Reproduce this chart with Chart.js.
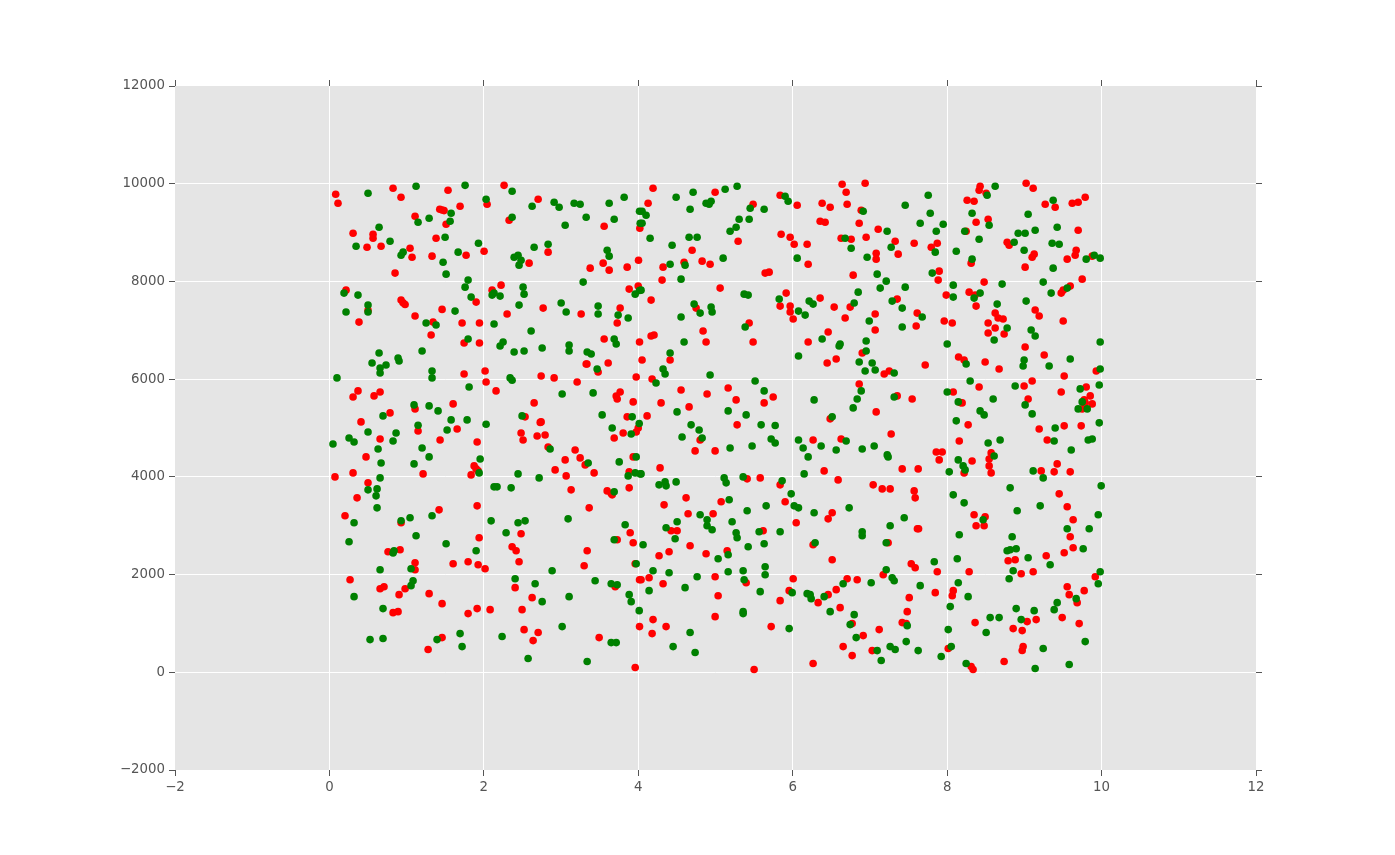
<!DOCTYPE html>
<html><head><meta charset="utf-8">
<style>html,body{margin:0;padding:0;background:#fff}#w{width:1395px;height:855px;position:relative}</style>
<script src="https://cdn.jsdelivr.net/npm/chart.js@4"></script>
</head><body><div id="w"><canvas id="c" width="1395" height="855"></canvas></div>
<script>
const redPoints=[
[.081,9784],[.111,9600],[.824,9906],[.927,9722],[1.536,9865],[1.429,9477],[1.459,9463],[1.485,9450],[1.692,9538],[1.109,9334],[1.511,9171],[.306,8987],[.565,8966],[.565,8885],[.487,8701],[.669,8721],[1.044,8680],[1.07,8496],[1.381,8885],[1.329,8517],[1.77,8537],[.85,8170],[.215,7822],[.928,7618],[.954,7563],[.98,7529],[.5,7407],[.383,7168],[1.109,7291],[1.459,7427],[1.9,7577],[1.342,7168],[1.317,6903],[1.718,7148],[1.943,7148],[1.744,6739],[1.943,6739],[1.744,6106],[.37,5759],[.306,5636],[.578,5657],[.656,5738],[1.109,5391],[1.602,5493],[.785,5309],[.409,5125],
[2.262,9967],[2.703,9681],[2.042,9579],[2.327,9252],[3.558,9130],[4.02,9089],[2.003,8619],[2.832,8599],[2.586,8374],[3.377,8272],[3.545,8374],[3.623,8231],[3.856,8292],[4.003,8435],[2.223,7924],[2.107,7822],[3.882,7843],[3.999,7904],[2.768,7454],[2.301,7332],[3.26,7332],[3.765,7454],[3.727,7148],[3.558,6821],[4.016,6760],[3.325,6310],[3.335,6310],[3.61,6331],[3.48,6147],[2.016,6167],[2.029,5943],[2.742,6065],[2.91,6025],[3.208,5943],[3.973,6045],[2.158,5759],[2.651,5514],[3.765,5738],[3.714,5656],[3.727,5595],[3.934,5534],[2.534,5228],[3.856,5228],[2.742,5125],[2.73,5115],
[4.191,9906],[4.995,9824],[4.127,9600],[5.487,9579],[5.837,9763],[6.058,9559],[5.85,8966],[5.967,8905],[6.019,8762],[5.293,8823],[4.697,8639],[4.593,8394],[4.827,8415],[4.93,8353],[4.321,8292],[4.308,8027],[5.643,8170],[5.695,8190],[5.06,7863],[5.915,7761],[4.166,7618],[5.837,7495],[5.967,7495],[4.749,7454],[5.967,7373],[6.006,7230],[5.436,7148],[4.839,6985],[4.204,6903],[4.166,6882],[4.878,6760],[5.487,6760],[4.049,6392],[4.412,6392],[4.179,6004],[4.554,5779],[5.164,5820],[4.891,5697],[5.747,5636],[5.267,5575],[5.63,5514],[4.295,5514],[4.658,5432],[4.114,5248],[5.28,5064],
[6.64,9988],[6.938,10008],[6.692,9824],[6.381,9600],[6.485,9518],[6.705,9579],[6.887,9457],[6.355,9232],[6.42,9211],[6.861,9191],[7.107,9068],[6.951,8905],[6.627,8885],[6.757,8864],[7.327,8823],[7.573,8782],[7.872,8782],[7.794,8701],[6.187,8762],[7.081,8578],[7.366,8558],[7.081,8456],[6.2,8353],[7.897,8210],[6.783,8129],[7.884,8027],[7.988,7720],[7.353,7638],[6.355,7659],[6.537,7475],[6.744,7475],[6.679,7250],[7.068,7332],[7.612,7352],[7.962,7189],[8.066,7148],[7.599,7087],[7.068,7005],[6.459,6964],[6.2,6760],[6.9,6535],[6.563,6413],[6.446,6331],[8.148,6453],[7.716,6290],[7.25,6167],[7.185,6106],[6.861,5902],[8.079,5738],[7.353,5657],[7.547,5595],[8.17,5520],[7.081,5330],[6.485,5187],
[8.427,9947],[8.414,9865],[8.505,9804],[9.023,10008],[9.114,9906],[8.259,9661],[8.349,9640],[9.27,9579],[9.399,9518],[9.62,9600],[9.697,9620],[9.788,9722],[8.531,9273],[8.375,9211],[8.246,9027],[9.697,9048],[8.777,8803],[8.803,8742],[9.127,8558],[9.101,8496],[9.671,8639],[9.658,8537],[9.555,8456],[9.879,8517],[8.311,8374],[9.01,8292],[8.479,7986],[9.749,8047],[9.594,7904],[9.503,7822],[9.477,7761],[8.285,7781],[8.362,7720],[8.375,7495],[9.14,7414],[9.192,7291],[8.622,7352],[8.66,7250],[8.725,7230],[8.531,7148],[8.622,7046],[8.531,6944],[8.738,6923],[9.503,7189],[9.01,6658],[9.257,6494],[8.22,6392],[8.492,6351],[8.673,6208],[9.931,6167],[9.516,6065],[9.101,5963],[8.997,5861],[8.414,5840],[9.477,5738],[9.801,5840],[9.853,5657],[9.775,5575],[9.788,5514],[9.879,5493],[9.749,5391],[9.049,5595],[8.194,5514],[8.272,5064],[9.516,5044],[9.736,5044],
[1.148,4939],[1.654,4980],[.656,4776],[1.433,4755],[1.913,4714],[.474,4408],[1.874,4224],[1.9,4163],[1.926,4122],[1.835,4040],[.306,4081],[.072,3999],[1.213,4061],[.5,3877],[.358,3570],[1.913,3407],[1.42,3325],[.202,3203],[.928,3060],[1.939,2753],[.759,2467],[.915,2508],[1.109,2242],[1.109,2099],[1.602,2222],[1.796,2263],[1.926,2202],[.267,1895],[.707,1752],[.656,1711],[.98,1711],[.902,1589],[1.291,1609],[1.459,1405],[1.913,1303],[1.796,1201],[.824,1221],[.889,1241],[1.459,710],[1.278,465],
[2.482,4898],[2.508,4755],[2.69,4837],[2.793,4857],[3.688,4796],[3.804,4898],[3.973,4919],[3.999,5000],[2.832,4612],[3.182,4551],[3.247,4388],[3.053,4347],[3.312,4245],[3.934,4408],[2.923,4142],[3.428,4081],[3.066,4020],[3.882,4102],[3.13,3734],[3.882,3775],[3.597,3713],[3.662,3632],[3.65,3660],[3.364,3366],[3.895,2855],[2.482,2835],[3.727,2712],[3.934,2651],[2.366,2569],[2.418,2488],[3.338,2488],[2.456,2263],[3.299,2181],[3.96,2222],[2.016,2120],[2.405,1732],[3.701,1752],[4.016,1895],[2.625,1528],[2.081,1282],[2.495,1282],[2.521,873],[2.703,813],[2.638,649],[3.493,710],[4.016,935],[3.96,97],
[4.801,4755],[4.736,4531],[4.995,4531],[4.282,4183],[5.41,3959],[5.579,3979],[5.837,3836],[4.619,3570],[5.073,3489],[5.902,3489],[4.334,3427],[4.645,3244],[4.969,3244],[6.045,3060],[4.425,2896],[4.503,2896],[5.617,2896],[4.671,2590],[4.399,2467],[4.269,2385],[4.878,2426],[5.151,2488],[4.036,1895],[4.14,1936],[4.995,1956],[5.397,1834],[6.006,1916],[4.321,1813],[5.954,1671],[5.837,1466],[5.034,1568],[4.995,1139],[4.191,1078],[4.36,935],[4.179,792],[5.721,935],[5.5,56],
[7.275,4878],[6.264,4755],[6.627,4776],[8.157,4735],[7.859,4510],[7.936,4510],[7.897,4347],[7.418,4163],[7.625,4163],[6.407,4122],[6.588,3938],[7.042,3836],[7.159,3754],[7.262,3754],[7.573,3713],[7.586,3570],[6.511,3264],[6.459,3141],[7.615,2937],[7.63,2937],[6.264,2610],[7.236,2651],[6.511,2304],[7.535,2222],[7.586,2140],[7.872,2059],[7.172,1997],[6.705,1916],[6.835,1895],[6.563,1691],[6.459,1589],[6.329,1425],[6.614,1323],[7.846,1630],[8.079,1671],[8.066,1568],[7.509,1528],[7.483,1241],[7.418,1017],[7.47,996],[6.77,996],[7.12,874],[6.913,751],[6.653,526],[6.77,342],[7.029,444],[8.014,486],[6.264,179],
[9.192,4980],[9.296,4755],[8.57,4490],[8.323,4326],[8.544,4367],[8.544,4224],[8.57,4081],[8.22,4081],[9.425,4265],[9.218,4122],[9.386,4102],[9.594,4102],[9.451,3652],[9.555,3387],[8.349,3223],[8.492,3182],[8.375,3000],[8.479,3000],[9.632,3121],[9.594,2774],[9.632,2549],[9.516,2447],[9.283,2385],[8.79,2283],[8.881,2304],[8.959,2018],[9.114,2059],[8.285,2059],[9.918,1956],[9.555,1752],[9.775,1671],[9.581,1589],[9.684,1425],[8.362,1017],[9.49,1119],[9.71,996],[9.036,1037],[9.153,1078],[8.855,894],[8.972,853],[8.984,526],[8.972,445],[8.738,220],[8.311,118],[8.336,56]
];
const greenPoints=[
[.5,9804],[1.122,9947],[1.757,9967],[1.576,9395],[1.291,9293],[1.148,9211],[1.563,9232],[.643,9109],[.785,8823],[.345,8721],[1.498,8905],[.954,8599],[.928,8537],[1.93,8782],[1.667,8599],[1.472,8394],[1.511,8149],[1.796,8027],[1.757,7883],[.189,7761],[.37,7720],[1.835,7679],[.5,7516],[.5,7373],[.215,7373],[1.627,7393],[1.252,7148],[1.381,7107],[1.796,6821],[.643,6535],[1.2,6576],[.889,6433],[.902,6372],[.552,6331],[.733,6290],[.656,6229],[.656,6127],[1.329,6167],[1.329,6025],[.098,6025],[1.809,5840],[1.096,5473],[1.291,5452],[1.407,5350],[.694,5248],[1.576,5166],[1.783,5166],[1.148,5057],
[2.366,9845],[2.029,9681],[2.625,9538],[2.91,9620],[2.975,9518],[3.169,9600],[3.247,9579],[3.623,9600],[3.817,9722],[2.366,9314],[3.325,9314],[3.688,9273],[3.053,9150],[4.016,9436],[4.025,9191],[2.832,8762],[2.651,8701],[3.597,8639],[3.623,8517],[2.392,8496],[2.443,8537],[2.482,8435],[2.456,8333],[3.286,7986],[2.508,7883],[2.521,7740],[2.107,7720],[2.132,7761],[2.21,7700],[3.96,7740],[4.016,7815],[2.456,7516],[3.001,7557],[3.066,7373],[3.48,7495],[3.48,7332],[3.739,7311],[3.869,7250],[2.132,7128],[2.612,6985],[2.249,6760],[2.21,6678],[2.392,6556],[2.521,6576],[2.755,6637],[3.104,6698],[3.104,6576],[3.338,6556],[3.39,6515],[3.688,6821],[3.714,6719],[3.467,6208],[2.34,6025],[2.366,5977],[3.014,5697],[3.415,5718],[2.495,5248],[3.532,5268],[3.921,5228],[2.029,5078],[4.012,5092],
[4.49,9722],[4.71,9824],[5.125,9886],[5.28,9947],[4.878,9600],[4.917,9579],[4.943,9640],[4.671,9477],[5.449,9497],[5.63,9477],[5.902,9743],[5.941,9640],[4.049,9436],[4.101,9354],[4.049,9191],[5.306,9273],[5.436,9273],[5.267,9109],[5.189,9027],[4.153,8885],[4.658,8905],[4.762,8905],[4.438,8742],[5.099,8476],[6.058,8476],[4.412,8353],[4.606,8333],[4.554,8047],[4.036,7822],[5.371,7740],[5.423,7720],[5.825,7638],[4.723,7536],[4.943,7475],[4.956,7373],[4.801,7352],[4.554,7271],[6.075,7393],[5.384,7066],[4.593,6760],[4.412,6535],[6.075,6474],[4.321,6208],[4.347,6106],[4.93,6086],[4.23,5922],[5.513,5963],[5.63,5759],[4.502,5330],[5.164,5350],[5.397,5268],[4.684,5064],[5.591,5064],[5.773,5050],
[7.755,9763],[7.457,9559],[6.913,9436],[7.781,9395],[7.651,9191],[7.949,9171],[7.223,9027],[7.859,9027],[6.679,8885],[6.757,8680],[7.275,8701],[7.846,8599],[8.118,8619],[6.964,8496],[7.807,8170],[7.094,8149],[7.211,8006],[7.133,7863],[7.457,7883],[8.079,7924],[8.079,7679],[6.848,7781],[6.213,7597],[6.264,7536],[6.796,7557],[7.288,7597],[7.418,7454],[6.161,7311],[7.677,7271],[6.991,7189],[7.418,7066],[6.381,6821],[6.614,6719],[6.601,6678],[6.951,6780],[8.001,6719],[6.951,6576],[6.861,6351],[7.029,6331],[6.938,6167],[7.068,6188],[7.314,6127],[6.887,5759],[8.001,5738],[6.835,5595],[7.314,5636],[8.144,5534],[6.277,5575],[6.783,5411],[6.511,5228],[8.118,5146],
[8.622,9947],[8.518,9763],[9.373,9661],[9.049,9375],[8.323,9395],[8.544,9150],[8.228,9027],[8.414,8864],[9.425,9109],[9.14,9048],[8.92,8987],[9.01,8987],[8.868,8803],[9.36,8782],[9.451,8762],[8.997,8639],[8.323,8456],[9.801,8456],[9.905,8537],[9.982,8476],[9.373,8272],[8.712,7945],[9.244,7986],[9.347,7761],[9.555,7863],[8.427,7761],[8.349,7659],[9.023,7597],[8.648,7536],[8.777,7046],[9.088,7005],[9.14,6882],[8.609,6801],[9.982,6760],[8.997,6392],[8.984,6270],[9.321,6270],[9.594,6413],[8.246,6310],[9.982,6208],[8.298,5963],[8.881,5861],[9.97,5881],[9.723,5800],[8.596,5595],[9.01,5473],[9.749,5534],[9.697,5391],[9.814,5391],[8.427,5350],[8.479,5268],[9.101,5289],[9.97,5105],
[.5,4919],[.863,4898],[1.524,4960],[.254,4796],[.319,4714],[.046,4674],[.824,4735],[.63,4571],[1.2,4592],[1.291,4408],[.669,4285],[1.096,4265],[1.952,4367],[.656,3979],[1.939,4081],[.617,3754],[.5,3734],[.604,3611],[.617,3366],[1.329,3203],[1.044,3162],[.319,3060],[.928,3101],[1.122,2794],[.254,2671],[1.511,2631],[1.9,2488],[.837,2488],[.824,2440],[.656,2099],[1.057,2120],[1.083,1875],[1.057,1773],[.319,1548],[.694,1303],[1.692,792],[1.718,526],[1.394,669],[.526,669],[.694,690],
[3.662,5000],[3.908,4878],[2.858,4571],[3.753,4306],[3.351,4285],[3.973,4408],[2.443,4061],[2.716,3979],[3.869,4020],[3.96,4081],[4.025,4061],[2.132,3795],[2.171,3795],[2.353,3775],[3.688,3693],[3.091,3141],[2.094,3100],[2.443,3060],[2.534,3100],[2.288,2855],[3.83,3019],[3.688,2712],[2.884,2079],[3.973,2222],[2.405,1916],[2.664,1813],[3.441,1875],[3.649,1813],[3.727,1793],[3.882,1589],[3.908,1446],[2.755,1446],[3.104,1548],[4.012,1262],[3.014,935],[2.236,731],[3.649,608],[3.714,608],[2.573,281],[3.338,220],
[4.788,4960],[4.567,4817],[4.827,4796],[5.721,4776],[5.773,4694],[6.075,4755],[5.189,4592],[5.474,4633],[4.036,4061],[4.269,3836],[4.347,3897],[4.36,3816],[4.49,3897],[5.112,3979],[5.138,3877],[5.358,3999],[5.863,3918],[5.98,3652],[6.019,3407],[6.075,3366],[5.177,3530],[5.656,3407],[5.41,3305],[4.801,3223],[4.891,3121],[4.891,2998],[4.956,2917],[5.215,3080],[4.503,3080],[4.36,2957],[4.477,2733],[5.267,2855],[5.28,2753],[5.565,2876],[5.837,2876],[5.63,2631],[5.423,2569],[4.062,2610],[5.164,2406],[5.034,2324],[5.643,2161],[5.643,1997],[5.358,2079],[5.164,2059],[4.191,2079],[4.399,2038],[4.762,1956],[5.371,1895],[4.14,1671],[4.606,1732],[5.579,1650],[5.993,1630],[5.358,1241],[5.358,1201],[5.954,894],[4.671,813],[4.451,526],[4.736,404],
[6.692,4735],[6.135,4592],[6.368,4633],[6.563,4551],[6.9,4571],[7.055,4633],[7.224,4449],[7.236,4408],[6.2,4408],[6.148,4061],[8.144,4347],[8.027,4102],[8.079,3632],[6.731,3366],[6.277,3264],[7.444,3162],[7.262,2998],[6.9,2876],[6.9,2794],[8.157,2815],[6.29,2651],[7.211,2651],[7.833,2263],[8.131,2324],[7.211,2099],[7.288,1936],[7.314,1875],[7.016,1834],[6.653,1813],[7.651,1773],[8.144,1834],[6.187,1609],[6.226,1589],[6.239,1507],[6.407,1548],[6.485,1241],[6.796,1180],[8.04,1344],[6.744,976],[7.483,955],[8.014,874],[6.822,710],[7.47,628],[7.262,526],[7.327,465],[7.094,444],[7.625,444],[8.053,526],[7.923,322],[7.146,240],
[9.399,5000],[8.531,4694],[8.686,4755],[9.386,4735],[9.827,4755],[9.879,4776],[9.607,4551],[8.609,4428],[8.207,4224],[8.233,4142],[9.114,4122],[9.244,3979],[8.816,3775],[9.995,3816],[8.22,3468],[9.205,3407],[8.907,3305],[9.957,3223],[8.466,3121],[9.555,2937],[9.84,2937],[8.842,2774],[8.894,2528],[8.816,2508],[8.777,2488],[9.762,2528],[9.049,2345],[9.334,2202],[8.855,2079],[8.803,1916],[9.982,2059],[9.957,1813],[8.272,1548],[9.671,1507],[9.425,1425],[9.386,1282],[8.894,1303],[9.127,1262],[8.557,1119],[8.673,1119],[8.959,1078],[8.505,813],[9.788,628],[9.244,486],[8.246,179],[9.14,77],[9.581,159]
];
const xRange=[-2,12], xStep=2;
const yRange=[-2000,12000], yStep=2000;

const minus=v=>String(v).replace('-','\u2212');
const toXY=a=>a.map(p=>({x:p[0],y:p[1]}));
const FONT={family:'"DejaVu Sans"',size:13.33};
const edge=r=>ctx=>(ctx.tick&&(ctx.tick.value===r[0]||ctx.tick.value===r[1]))?'rgba(0,0,0,0)':'#ffffff';
const GRID={lineWidth:1,tickColor:'#555555',tickLength:6,tickWidth:1};
function fixed(prop,val){return s=>{s[prop]=val;};}
const bg={id:'bg',beforeDraw(ch){const a=ch.chartArea,c=ch.ctx;c.save();c.fillStyle='#e5e5e5';c.fillRect(a.left,a.top,a.right-a.left,a.bottom-a.top);c.restore();}};
new Chart(document.getElementById('c'),{
 type:'scatter',
 data:{datasets:[
  {label:'green',data:toXY(greenPoints),backgroundColor:'#008000',borderWidth:0,pointRadius:3.8,xAxisID:'x',yAxisID:'y'},
  {label:'red',data:toXY(redPoints),backgroundColor:'#ff0000',borderWidth:0,pointRadius:3.8,xAxisID:'x',yAxisID:'y'}
 ]},
 options:{
  responsive:false,animation:false,devicePixelRatio:1,
  layout:{padding:0},
  plugins:{legend:{display:false},tooltip:{enabled:false}},
  scales:{
   x:{type:'linear',position:'bottom',min:xRange[0],max:xRange[1],border:{display:false},grid:{...GRID,color:edge(xRange)},
      afterFit:fixed('height',85),
      ticks:{stepSize:xStep,color:'#555555',font:FONT,padding:4,maxRotation:0,callback:minus}},
   y:{type:'linear',position:'left',min:yRange[0],max:yRange[1],border:{display:false},grid:{...GRID,color:edge(yRange)},
      afterFit:fixed('width',175),
      ticks:{stepSize:yStep,color:'#555555',font:FONT,padding:4,callback:minus}},
   xTop:{type:'linear',position:'top',min:xRange[0],max:xRange[1],border:{display:false},
      grid:{...GRID,color:'#ffffff',drawOnChartArea:false},afterFit:fixed('height',86),
      ticks:{stepSize:xStep,display:false}},
   yRight:{type:'linear',position:'right',min:yRange[0],max:yRange[1],border:{display:false},
      grid:{...GRID,color:'#ffffff',drawOnChartArea:false},afterFit:fixed('width',139),
      ticks:{stepSize:yStep,display:false}}
  }
 },
 plugins:[bg]
});
</script></body></html>
